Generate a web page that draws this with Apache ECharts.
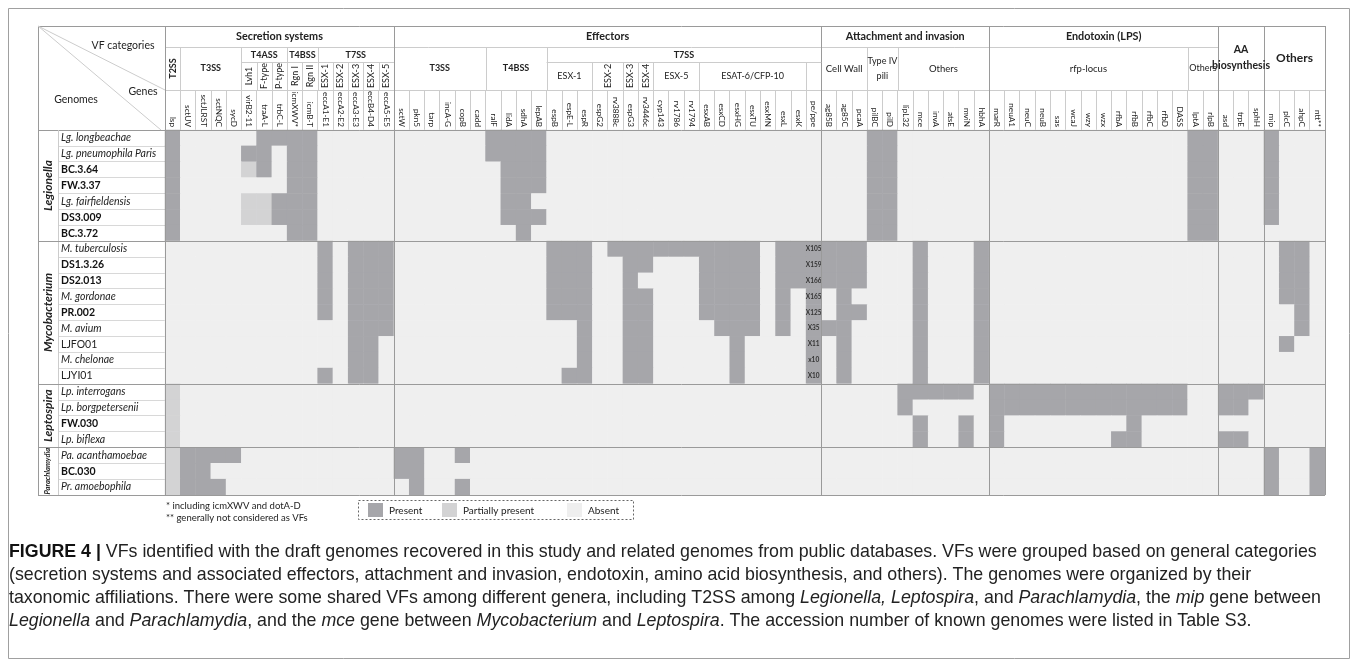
<!DOCTYPE html>
<html>
<head>
<meta charset="utf-8">
<script src="https://cdn.jsdelivr.net/npm/echarts@6/dist/echarts.min.js"></script>
<style>
  html, body { margin: 0; padding: 0; background: #fff; }
  #chart { width: 1358px; height: 666px; }
</style>
</head>
<body>
<div id="chart"></div>
<script>
// gene columns (76)
const genes = [
  'lsp', 'sctUV', 'sctJLRST', 'sctNQC', 'sycD', 'virB2-11', 'traA-L', 'trbC-L', 'icmXWV*', 'icmB-T',
  'eccA1-E1', 'eccA2-E2', 'eccA3-E3', 'eccB4-D4', 'eccA5-E5',
  'sctW', 'pkn5', 'tarp', 'incA-G', 'copB', 'cadd', 'ralF', 'lidA', 'sdhA', 'lepAB',
  'espB', 'espE-L', 'espR', 'espG2', 'rv3888c', 'espG3', 'rv3446c', 'cyp143', 'rv1786', 'rv1794',
  'esxAB', 'esxCD', 'esxHG', 'esxTU', 'esxMN', 'esxL', 'esxK', 'pe/ppe',
  'ag85B', 'ag85C', 'pcaA', 'pilBC', 'pilD', 'lipL32', 'mce', 'invA', 'atsE', 'mviN', 'hbhA',
  'marR', 'neuA1', 'neuC', 'neuB', 'sas', 'wcaJ', 'wzy', 'wzx', 'rfbA', 'rfbB', 'rfbC', 'rfbD', 'DASS', 'lptA', 'rlpB',
  'asd', 'trpE', 'sphH', 'mip', 'plcC', 'ahpC', 'ntt**'
]

const genomes = [
  'Lg. longbeachae', 'Lg. pneumophila Paris', 'BC.3.64', 'FW.3.37', 'Lg. fairfieldensis', 'DS3.009', 'BC.3.72',
  'M. tuberculosis', 'DS1.3.26', 'DS2.013', 'M. gordonae', 'PR.002', 'M. avium', 'LJFO01', 'M. chelonae', 'LJYI01',
  'Lp. interrogans', 'Lp. borgpetersenii', 'FW.030', 'Lp. biflexa',
  'Pa. acanthamoebae', 'BC.030', 'Pr. amoebophila'
]
// i = italic species, b = bold draft genome, n = plain
const genomeStyle = ['i', 'i', 'b', 'b', 'i', 'b', 'b', 'i', 'b', 'b', 'i', 'b', 'i', 'n', 'i', 'n', 'i', 'i', 'b', 'i', 'i', 'b', 'i']

const genera = [['Legionella', 0, 7], ['Mycobacterium', 7, 16], ['Leptospira', 16, 20], ['Parachlamydia', 20, 23]]

// 2 = present, 1 = partially present, 0 = absent
// groups: secretion | effectors | attachment | endotoxin | AA | others
const legionellaRows = [
  '2 0000 022 22 00000  000000 2222 000 00 0 0 000 0000000 0  000 22 000000  0000000000000 22  000  2000',
  '2 0000 220 22 00000  000000 2222 000 00 0 0 000 0000000 0  000 22 000000  0000000000000 22  000  2000',
  '2 0000 120 22 00000  000000 0222 000 00 0 0 000 0000000 0  000 22 000000  0000000000000 22  000  2000',
  '2 0000 000 22 00000  000000 0222 000 00 0 0 000 0000000 0  000 22 000000  0000000000000 22  000  2000',
  '2 0000 112 22 00000  000000 0220 000 00 0 0 000 0000000 0  000 22 000000  0000000000000 22  000  2000',
  '2 0000 112 22 00000  000000 0222 000 00 0 0 000 0000000 0  000 22 000000  0000000000000 22  000  2000',
  '2 0000 000 22 00000  000000 0020 000 00 0 0 000 0000000 0  000 22 000000  0000000000000 22  000  0000',
]
const mycobacteriumRows = [
  '0 0000 000 00 20222  000000 0000 222 02 2 2 222 2222022 2  222 00 020002  0000000000000 00  000  0220',
  '0 0000 000 00 20222  000000 0000 222 00 2 2 000 2222022 2  222 00 020002  0000000000000 00  000  0220',
  '0 0000 000 00 20222  000000 0000 222 00 2 0 000 2222022 2  222 00 020002  0000000000000 00  000  0220',
  '0 0000 000 00 20222  000000 0000 222 00 2 2 000 2222020 2  020 00 020002  0000000000000 00  000  0220',
  '0 0000 000 00 20222  000000 0000 222 00 2 2 000 2222020 2  022 00 020002  0000000000000 00  000  0020',
  '0 0000 000 00 00222  000000 0000 002 00 2 2 000 0222020 2  220 00 020002  0000000000000 00  000  0020',
  '0 0000 000 00 00220  000000 0000 002 00 2 2 000 0020000 2  020 00 020002  0000000000000 00  000  0200',
  '0 0000 000 00 00220  000000 0000 002 00 2 2 000 0020000 2  020 00 020002  0000000000000 00  000  0000',
  '0 0000 000 00 20220  000000 0000 022 00 2 2 000 0020000 2  020 00 020002  0000000000000 00  000  0000',
]
const leptospiraRows = [
  '1 0000 000 00 00000  000000 0000 000 00 0 0 000 0000000 0  000 00 222220  2222222222222 00  222  0000',
  '1 0000 000 00 00000  000000 0000 000 00 0 0 000 0000000 0  000 00 200000  2222222222222 00  220  0000',
  '1 0000 000 00 00000  000000 0000 000 00 0 0 000 0000000 0  000 00 020020  2000000002000 00  000  0000',
  '1 0000 000 00 00000  000000 0000 000 00 0 0 000 0000000 0  000 00 020020  2000000022000 00  220  0000',
]
const parachlamydiaRows = [
  '1 2222 000 00 00000  220020 0000 000 00 0 0 000 0000000 0  000 00 000000  0000000000000 00  000  2002',
  '1 2200 000 00 00000  220000 0000 000 00 0 0 000 0000000 0  000 00 000000  0000000000000 00  000  2002',
  '1 2220 000 00 00000  020020 0000 000 00 0 0 000 0000000 0  000 00 000000  0000000000000 00  000  2002',
]

// copy numbers written in the pe/ppe column (Mycobacterium rows)
const pePpeLabels = ['X105', 'X159', 'X166', 'X165', 'X125', 'X35', 'X11', 'x10', 'X10']

// header: [label, fromCol, toCol]
const categories = [
  ['Secretion systems', 0, 15], ['Effectors', 15, 43], ['Attachment and invasion', 43, 54],
  ['Endotoxin (LPS)', 54, 69], ['AA\nbiosynthesis', 69, 72], ['Others', 72, 76]
]
// [label, from, to, bold, nested, rotated]
const subGroups = [
  ['T2SS', 0, 1, true, false, true], ['T3SS', 1, 5, true, false, false], ['T4ASS', 5, 8, true, true, false],
  ['T4BSS', 8, 10, true, true, false], ['T7SS', 10, 15, true, true, false],
  ['T3SS', 15, 21, true, false, false], ['T4BSS', 21, 25, true, false, false], ['T7SS', 25, 43, true, true, false],
  ['Cell Wall', 43, 46, false, false, false], ['Type IV\npili', 46, 48, false, false, false], ['Others', 48, 54, false, false, false],
  ['rfp-locus', 54, 67, false, false, false], ['Others', 67, 69, false, false, false]
]
// [label, from, to, rotated]
const subSubGroups = [
  ['Lvh1', 5, 6, true], ['F-type', 6, 7, true], ['P-type', 7, 8, true], ['Rgn I', 8, 9, true], ['Rgn II', 9, 10, true],
  ['ESX-1', 10, 11, true], ['ESX-2', 11, 12, true], ['ESX-3', 12, 13, true], ['ESX-4', 13, 14, true], ['ESX-5', 14, 15, true],
  ['ESX-1', 25, 28, false], ['ESX-2', 28, 30, true], ['ESX-3', 30, 31, true], ['ESX-4', 31, 32, true],
  ['ESX-5', 32, 35, false], ['ESAT-6/CFP-10', 35, 42, false], ['', 42, 43, false]
]

const legendItems = [['Present', '#a6a6aa'], ['Partially present', '#d3d3d4'], ['Absent', '#efefef']]

const footnotes = ['* including icmXWV and dotA-D', '** generally not considered as VFs']

const captionLines = [
  [['b', 'FIGURE 4 | '], ['n', 'VFs identified with the draft genomes recovered in this study and related genomes from public databases. VFs were grouped based on general categories']],
  [['n', '(secretion systems and associated effectors, attachment and invasion, endotoxin, amino acid biosynthesis, and others). The genomes were organized by their']],
  [['n', 'taxonomic affiliations. There were some shared VFs among different genera, including T2SS among '], ['i', 'Legionella, Leptospira'], ['n', ', and '], ['i', 'Parachlamydia'], ['n', ', the '], ['i', 'mip'], ['n', ' gene between']],
  [['i', 'Legionella'], ['n', ' and '], ['i', 'Parachlamydia'], ['n', ', and the '], ['i', 'mce'], ['n', ' gene between '], ['i', 'Mycobacterium'], ['n', ' and '], ['i', 'Leptospira'], ['n', '. The accession number of known genomes were listed in Table S3.']]
]

const FONT = 'Lato'
const CAP_FONT = 'Liberation Sans'
const CAT_LINE = '#9a9a9a'
const IN_LINE = '#cccccc'

const rows = [...legionellaRows, ...mycobacteriumRows, ...leptospiraRows, ...parachlamydiaRows]
  .map(s => s.replace(/\s+/g, ''))

const cells = []
rows.forEach((r, y) => {
  if (r.length !== genes.length) console.warn('row length', y, r.length)
  for (let x = 0; x < r.length; x++) {
    const item = { value: [x, y, +r[x]] }
    if (x === 42 && y >= 7 && y <= 15) {
      item.label = {
        show: true, formatter: pePpeLabels[y - 7], fontSize: 6.5, fontWeight: 'bold',
        fontFamily: FONT, color: '#333'
      }
    }
    cells.push(item)
  }
})

const chart = echarts.init(document.getElementById('chart'), null, { renderer: 'canvas' })

const option = {
  animation: false,
  textStyle: { fontFamily: FONT },
  grid: { left: 165, right: 33, top: 130, bottom: 171 },
  xAxis: {
    type: 'category',
    data: genes,
    position: 'top',
    axisLine: { show: true, lineStyle: { color: CAT_LINE } },
    axisTick: { show: true, length: 40, interval: 0, lineStyle: { color: IN_LINE } },
    axisLabel: { interval: 0, rotate: 90, margin: 3, fontSize: 8.2, fontFamily: FONT, color: '#222' },
    splitLine: { show: false },
  },
  yAxis: {
    type: 'category',
    data: genomes,
    inverse: true,
    axisLine: { show: true, lineStyle: { color: CAT_LINE } },
    axisTick: { show: true, length: 107, interval: 0, lineStyle: { color: '#d8d8d8' } },
    axisLabel: {
      interval: 0, margin: 104, align: 'left', fontSize: 10.5, color: '#222',
      formatter: (v, i) => `{${genomeStyle[i]}|${v}}`,
      rich: {
        i: { fontStyle: 'italic', fontSize: 10.5, fontFamily: FONT, color: '#222' },
        b: { fontWeight: 'bold', fontSize: 10.5, fontFamily: FONT, color: '#111' },
        n: { fontSize: 10.5, fontFamily: FONT, color: '#222' },
      },
    },
    splitLine: { show: false },
  },
  visualMap: {
    show: false,
    type: 'piecewise',
    dimension: 2,
    seriesIndex: 0,
    pieces: [
      { value: 0, color: legendItems[2][1] },
      { value: 1, color: legendItems[1][1] },
      { value: 2, color: legendItems[0][1] },
    ],
  },
  series: [{
    type: 'heatmap',
    data: cells,
    label: { show: false },
    emphasis: { disabled: true },
    progressive: 0,
  }],
}

chart.setOption(option)

// column / row edges through the axes
const cx0 = chart.convertToPixel({ xAxisIndex: 0 }, 0)
const colW = chart.convertToPixel({ xAxisIndex: 0 }, 1) - cx0
const colEdge = i => cx0 - colW / 2 + i * colW
const ry0 = chart.convertToPixel({ yAxisIndex: 0 }, 0)
const rowH = chart.convertToPixel({ yAxisIndex: 0 }, 1) - ry0
const rowEdge = i => ry0 - rowH / 2 + i * rowH

const Y0 = 26, Y1 = 47, Y2 = 62, Y3 = 90
const TL = 38, GL = 58
const gTop = rowEdge(0), gBot = rowEdge(genomes.length), gLeft = colEdge(0), gRight = colEdge(genes.length)

const px = v => Math.round(v) + 0.5
const g = []
const line = (x1, y1, x2, y2, color, w = 1) => g.push({
  type: 'line', silent: true, z: 100,
  shape: { x1: x1 === x2 ? px(x1) : x1, y1: y1 === y2 ? px(y1) : y1, x2: x1 === x2 ? px(x2) : x2, y2: y1 === y2 ? px(y2) : y2 },
  style: { stroke: color, lineWidth: w },
})
const text = (x, y, str, st = {}, rotation = 0) => g.push({
  type: 'text', silent: true, z: 101, x, y, rotation,
  style: Object.assign({ text: str, fontFamily: FONT, fontSize: 10, fill: '#222', align: 'center', verticalAlign: 'middle' }, st),
})

// figure frame
g.push({ type: 'rect', silent: true, z: 90, shape: { x: 8.5, y: 8.5, width: 1341, height: 650 }, style: { fill: 'none', stroke: '#a0a0a0', lineWidth: 1 } })

// header lines
line(TL, Y0, gRight, Y0, CAT_LINE)
line(gLeft, Y1, colEdge(69), Y1, IN_LINE)
line(gLeft, Y3, gRight, Y3, IN_LINE)
line(TL, gTop, gRight, gTop, CAT_LINE)
line(TL, gBot, gRight, gBot, CAT_LINE)
line(TL, Y0, TL, gBot, CAT_LINE)
line(gLeft, Y0, gLeft, gBot, CAT_LINE)
line(gRight, Y0, gRight, gBot, CAT_LINE)
line(GL, gTop, GL, gBot, IN_LINE)
categories.slice(1).forEach(c => line(colEdge(c[1]), Y0, colEdge(c[1]), gBot, CAT_LINE))
genera.slice(1).forEach(gn => line(TL, rowEdge(gn[1]), gRight, rowEdge(gn[1]), CAT_LINE))

// diagonal corner cell
g.push({ type: 'line', silent: true, z: 100, shape: { x1: TL, y1: Y0, x2: gLeft, y2: Y3 }, style: { stroke: IN_LINE } })
g.push({ type: 'line', silent: true, z: 100, shape: { x1: TL, y1: Y0, x2: gLeft - 4, y2: gTop }, style: { stroke: IN_LINE } })
text(123, 46, 'VF categories', { fontSize: 10.5 })
text(143, 92, 'Genes', { fontSize: 10.5 })
text(76, 100, 'Genomes', { fontSize: 10.5 })

// category labels
categories.forEach(([label, a, b]) => {
  const cxm = (colEdge(a) + colEdge(b)) / 2
  if (a >= 69) {
    const big = label === 'Others'
    text(cxm, (Y0 + Y3) / 2, label, { fontWeight: 'bold', fontSize: big ? 12 : 10.5, lineHeight: 16 })
  } else {
    text(cxm, (Y0 + Y1) / 2, label, { fontWeight: 'bold', fontSize: 10.8 })
  }
})

// sub groups
subGroups.forEach(([label, a, b, bold, nested, rot]) => {
  const cxm = (colEdge(a) + colEdge(b)) / 2
  const isCatStart = categories.some(c => c[1] === a)
  if (!isCatStart) line(colEdge(a), Y1, colEdge(a), Y3, IN_LINE)
  const narrow = b - a <= 2 && !bold
  const st = { fontWeight: bold ? 'bold' : 'normal', fontSize: bold ? 9 : (narrow ? 9 : 9.5), lineHeight: 15 }
  if (nested) {
    line(colEdge(a), Y2, colEdge(b), Y2, IN_LINE)
    text(cxm, (Y1 + Y2) / 2 + 1, label, st)
  } else {
    text(cxm, (Y1 + Y3) / 2, label, st, rot ? Math.PI / 2 : 0)
  }
})
subSubGroups.forEach(([label, a, b, rot], k) => {
  const cxm = (colEdge(a) + colEdge(b)) / 2
  const prev = subSubGroups[k - 1]
  if (prev && prev[2] === a) line(colEdge(a), Y2, colEdge(a), Y3, IN_LINE)
  text(cxm, (Y2 + Y3) / 2, label, { fontSize: 9 }, rot ? Math.PI / 2 : 0)
})

// genus labels
genera.forEach(([name, a, b]) => {
  const small = name === 'Parachlamydia'
  text((TL + GL) / 2, (rowEdge(a) + rowEdge(b)) / 2, name,
    { fontWeight: 'bold', fontStyle: 'italic', fontSize: small ? 7.5 : 12 }, Math.PI / 2)
})

// footnotes
footnotes.forEach((f, k) => text(166, 506 + k * 12, f, { fontSize: 9.5, align: 'left' }))

// legend
g.push({ type: 'rect', silent: true, z: 100, shape: { x: 358.5, y: 500.5, width: 275, height: 19 },
  style: { fill: 'none', stroke: '#666', lineWidth: 1, lineDash: [2, 2] } })
const legendX = [368, 442, 567]
legendItems.forEach(([name, color], k) => {
  g.push({ type: 'rect', silent: true, z: 100, shape: { x: legendX[k], y: 503, width: 15, height: 14 }, style: { fill: color } })
  text(legendX[k] + 21, 510.5, name, { fontSize: 10, align: 'left' })
})

// caption
const capRich = {
  b: { fontFamily: CAP_FONT, fontSize: 17.8, fontWeight: 'bold', fill: '#111' },
  n: { fontFamily: CAP_FONT, fontSize: 17.8, fill: '#222' },
  i: { fontFamily: CAP_FONT, fontSize: 17.8, fontStyle: 'italic', fill: '#222' },
}
captionLines.forEach((segs, k) => {
  const str = segs.map(([s, t]) => `{${s}|${t}}`).join('')
  g.push({ type: 'text', silent: true, z: 101, x: 9, y: 552 + k * 23,
    style: { text: str, rich: capRich, align: 'left', verticalAlign: 'middle' } })
})

chart.setOption({ graphic: { elements: g } })
window.addEventListener('resize', () => chart.resize())
</script>
</body>
</html>
